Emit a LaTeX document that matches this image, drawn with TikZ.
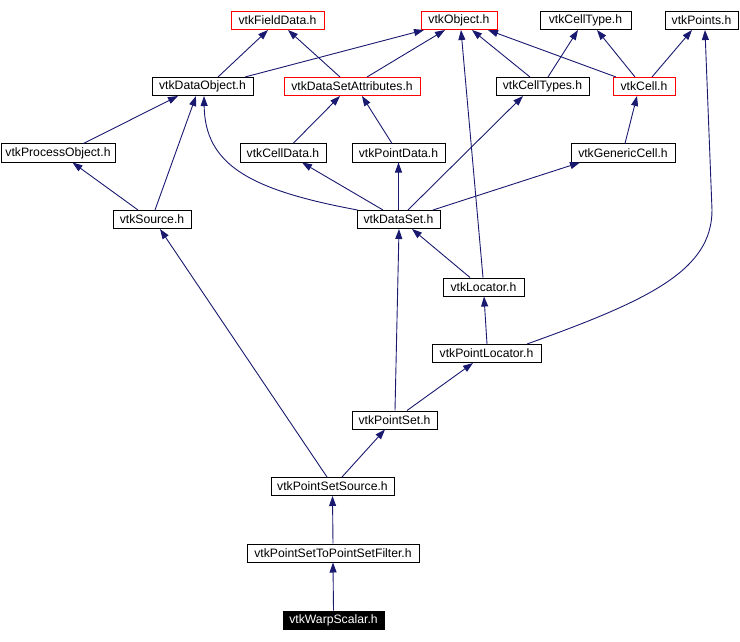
\documentclass[tikz,border=0pt]{standalone}
\usepackage{fontspec}
\setmainfont{Liberation Sans}
\usepackage{xcolor}
\definecolor{EdgeBlue}{HTML}{191970}
\definecolor{UndocRed}{HTML}{FF0000}
\usepackage{tikz}
\usetikzlibrary{arrows.meta,positioning}

\begin{document}
\begin{tikzpicture}[x=1pt, y=-1pt, >={Triangle[length=10pt,width=7pt]},
  every node/.style={font=\fontsize{12.2}{14}\selectfont, inner sep=0pt, minimum height=18pt, align=center},
  hdr/.style={draw=black, line width=1pt, fill=white},
  undoc/.style={draw=UndocRed, line width=1pt, fill=white},
  current/.style={draw=black, fill=black, text=white, line width=1pt},
  edge/.style={->, draw=EdgeBlue, line width=0.9pt}]
  \useasboundingbox (0,0) rectangle (740,642);

  % headers, top to bottom
  \node[undoc, minimum width=93pt] (fielddata) at (277.5,20.5) {vtkFieldData.h};
  \node[undoc, minimum width=76pt] (object) at (459,20.5) {vtkObject.h};
  \node[hdr, minimum width=91pt] (celltype) at (585.5,20.5) {vtkCellType.h};
  \node[hdr, minimum width=73pt] (points) at (701.5,20.5) {vtkPoints.h};
  \node[hdr, minimum width=101pt] (dataobject) at (202.5,86.5) {vtkDataObject.h};
  \node[undoc, minimum width=136pt] (dsattr) at (352,86.5) {vtkDataSetAttributes.h};
  \node[hdr, minimum width=93pt] (celltypes) at (542.5,86.5) {vtkCellTypes.h};
  \node[undoc, minimum width=62pt] (cell) at (644,86.5) {vtkCell.h};
  \node[hdr, minimum width=114pt] (processobject) at (58,153) {vtkProcessObject.h};
  \node[hdr, minimum width=86pt] (celldata) at (283,153) {vtkCellData.h};
  \node[hdr, minimum width=93pt] (pointdata) at (398.5,153) {vtkPointData.h};
  \node[hdr, minimum width=104pt] (genericcell) at (623,153) {vtkGenericCell.h};
  \node[hdr, minimum width=78pt] (source) at (152,219.5) {vtkSource.h};
  \node[hdr, minimum width=83pt] (dataset) at (398.5,219.5) {vtkDataSet.h};
  \node[hdr, minimum width=81pt] (locator) at (483.5,287) {vtkLocator.h};
  \node[hdr, minimum width=109pt] (pointlocator) at (486.5,353.5) {vtkPointLocator.h};
  \node[hdr, minimum width=85pt] (pointset) at (394.5,420) {vtkPointSet.h};
  \node[hdr, minimum width=123pt] (pointsetsource) at (332.5,486.5) {vtkPointSetSource.h};
  \node[hdr, minimum width=172pt] (filter) at (333,553) {vtkPointSetToPointSetFilter.h};
  \node[current, minimum width=101pt] (warpscalar) at (333.5,620) {vtkWarpScalar.h};

  % include edges, arrow at the included file
  \draw[edge] ([xshift=15.5pt]dataobject.north) -- ([xshift=-9.5pt]fielddata.south);
  \draw[edge] ([xshift=42.5pt]dataobject.north) -- ([xshift=-35pt]object.south);
  \draw[edge] ([xshift=-12pt]dsattr.north) -- ([xshift=10.5pt]fielddata.south);
  \draw[edge] ([xshift=15pt]dsattr.north) -- ([xshift=-14pt]object.south);
  \draw[edge] ([xshift=-12.5pt]celltypes.north) -- ([xshift=13pt]object.south);
  \draw[edge] ([xshift=5.5pt]celltypes.north) -- ([xshift=-7.5pt]celltype.south);
  \draw[edge] ([xshift=-28pt]cell.north) -- ([xshift=29pt]object.south);
  \draw[edge] ([xshift=-9pt]cell.north) -- ([xshift=11.5pt]celltype.south);
  \draw[edge] ([xshift=8pt]cell.north) -- ([xshift=-9.5pt]points.south);
  \draw[edge] ([xshift=25.5pt]processobject.north) -- ([xshift=-24.5pt]dataobject.south);
  \draw[edge] ([xshift=-14pt]source.north) -- ([xshift=14.5pt]processobject.south);
  \draw[edge] ([xshift=3pt]source.north) -- ([xshift=-6.5pt]dataobject.south);
  \draw[edge] ([xshift=10pt]celldata.north) -- ([xshift=-12pt]dsattr.south);
  \draw[edge] ([xshift=-6.5pt]pointdata.north) -- ([xshift=10pt]dsattr.south);
  \draw[edge] ([xshift=2pt]genericcell.north) -- ([xshift=-7pt]cell.south);
  \draw[edge] ([xshift=1pt]dataset.north west) .. controls (250,190) and (205,165) .. ([xshift=1.5pt]dataobject.south);
  \draw[edge] ([xshift=-15.5pt]dataset.north) -- ([xshift=19pt]celldata.south);
  \draw[edge] (dataset.north) -- (pointdata.south);
  \draw[edge] ([xshift=9.5pt]dataset.north) -- ([xshift=-19.5pt]celltypes.south);
  \draw[edge] ([xshift=34.5pt]dataset.north) -- ([xshift=-43pt]genericcell.south);
  \draw[edge] ([xshift=-0.5pt]locator.north) -- ([xshift=2pt]object.south);
  \draw[edge] ([xshift=-13.5pt]locator.north) -- ([xshift=13.5pt]dataset.south);
  \draw[edge] ([xshift=0.5pt]pointlocator.north) -- ([xshift=0.5pt]locator.south);
  \draw[edge] ([xshift=40.5pt]pointlocator.north) .. controls (650,300) and (712,270) .. (712,210) -- ([xshift=3.5pt]points.south);
  \draw[edge] ([xshift=0.5pt]pointset.north) -- ([xshift=0.5pt]dataset.south);
  \draw[edge] ([xshift=12.5pt]pointset.north) -- ([xshift=-13.5pt]pointlocator.south);
  \draw[edge] ([xshift=9.5pt]pointsetsource.north) -- ([xshift=-9.5pt]pointset.south);
  \draw[edge] ([xshift=-5.5pt]pointsetsource.north) -- ([xshift=8pt]source.south);
  \draw[edge] (filter.north) -- (pointsetsource.south);
  \draw[edge] (warpscalar.north) -- (filter.south);
\end{tikzpicture}
\end{document}
